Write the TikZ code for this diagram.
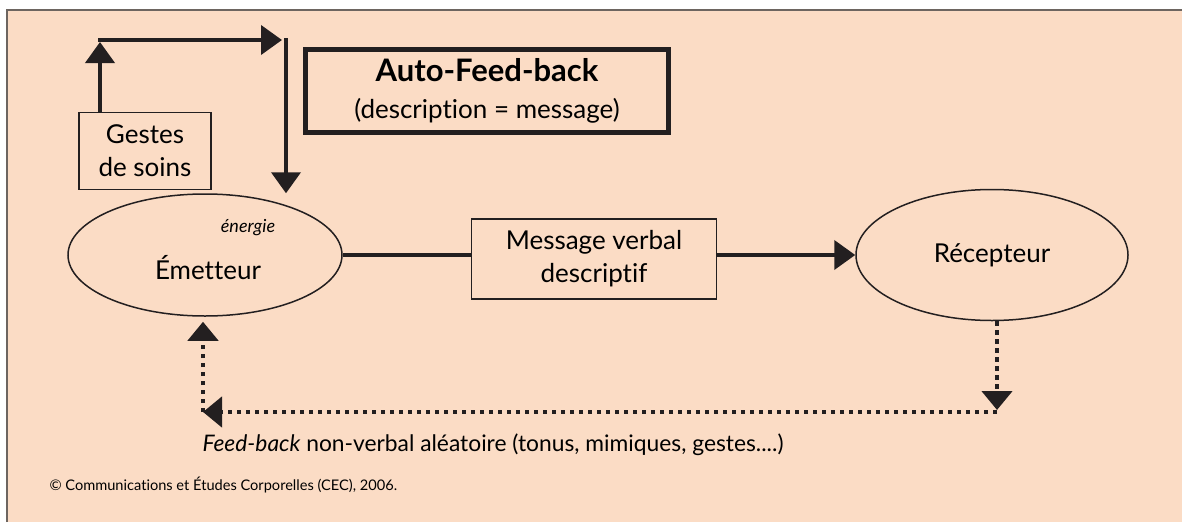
\documentclass[tikz,border=0pt]{standalone}
\usepackage{fontspec}
\setmainfont{Lato}[Ligatures=NoCommon]
\usetikzlibrary{shapes.geometric, arrows.meta}

\definecolor{peach}{HTML}{FBDCC5}
\definecolor{ink}{HTML}{231F20}
\definecolor{framegray}{HTML}{6D6560}

\tikzset{
  box/.style={draw=ink, line width=1.5pt, align=center, inner sep=0pt, font=\fontsize{26}{33}\selectfont},
  blob/.style={draw=ink, ellipse, line width=1.5pt, inner sep=0pt},
  flow/.style={draw=ink, line width=4pt, -{Triangle[length=21pt,width=29pt]}},
  dots/.style={draw=ink, line width=4.5pt, dash pattern=on 4.5pt off 4.5pt, -{Triangle[length=19pt,width=30pt]}},
}

\begin{document}
\begin{tikzpicture}[x=1pt, y=-1pt]
    \useasboundingbox (0,0) rectangle (1182,522);
    \fill[peach] (7,10) rectangle (1182,522);
    \draw[framegray, line width=1.5pt] (7,522) -- (7,10) -- (1182,10);

    \node[box, minimum width=132pt, minimum height=77pt] (gestes) at (145,151) {Gestes\\de soins};
    \node[box, line width=5pt, minimum width=363pt, minimum height=83pt, font=\fontsize{26}{37}\selectfont] (auto) at (487,91) {{\fontsize{31}{37}\selectfont\bfseries Auto-Feed-back}\\(description = message)};
    \node[box, minimum width=245pt, minimum height=80pt] (message) at (594,259) {Message verbal\\descriptif};

    \node[blob, minimum width=274pt, minimum height=122pt] (emetteur) at (205,255) {};
    \node[font=\fontsize{26}{30}\selectfont] (emtext) at (208,268) {Émetteur};
    \node[font=\fontsize{18}{20}\selectfont\itshape] (energie) at (248,228) {énergie};
    \node[blob, minimum width=272pt, minimum height=131pt, font=\fontsize{26}{30}\selectfont] (recepteur) at (992,255) {Récepteur};

    \coordinate (upcorner) at (100,40);
    \coordinate (downcorner) at (286,40);
    \coordinate (rcorner) at (997,412);
    \coordinate (ecorner) at (203,412);
    \coordinate (lineleft) at (345,255);
    \coordinate (lineright) at (717,255);

    \draw[flow] (gestes.north -| upcorner) -- ([yshift=-2pt]upcorner);
    \draw[flow] ([xshift=-2pt]upcorner) -- ([xshift=-4pt]downcorner);
    \draw[flow] ([yshift=2pt]downcorner) -- (emetteur.north -| downcorner);

    \draw[draw=ink, line width=4pt] (emetteur.east) -- (message.west |- lineleft);
    \draw[flow] (message.east |- lineright) -- (recepteur.west);

    \draw[dots] (recepteur.south -| rcorner) -- ([yshift=2pt]rcorner);
    \draw[dots] (rcorner) -- (ecorner);
    \draw[dots, shorten >=5pt] (ecorner) -- (emetteur.south -| ecorner);

    \node[anchor=west, font=\fontsize{22.8}{26}\selectfont] (feedback) at (199,445) {\textit{Feed-back} non-verbal aléatoire (tonus, mimiques, gestes....)};
    \node[anchor=west, font=\fontsize{14.6}{17}\selectfont] (credit) at (46,485) {© Communications et Études Corporelles (CEC), 2006.};
\end{tikzpicture}
\end{document}
